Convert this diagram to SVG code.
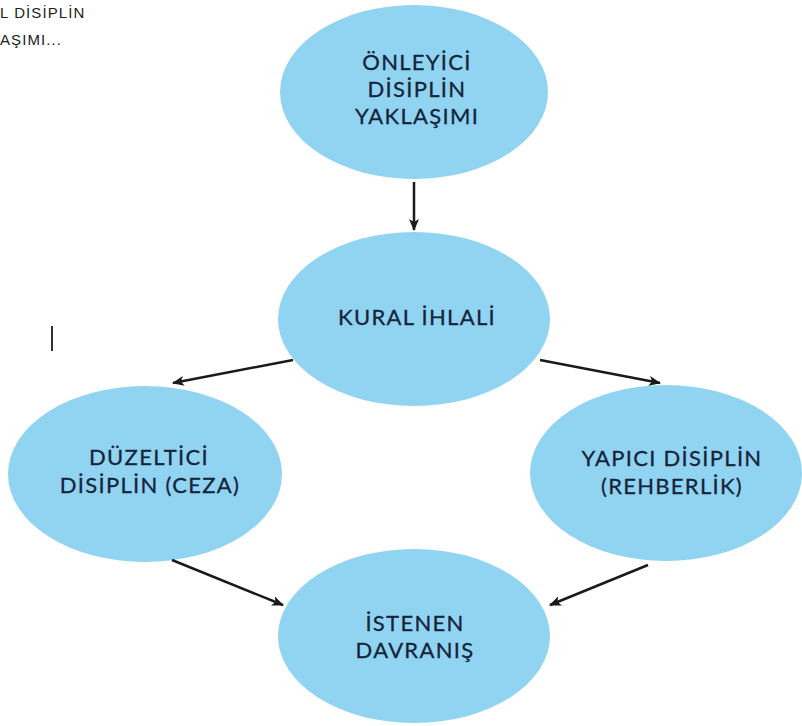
<svg xmlns="http://www.w3.org/2000/svg" width="802" height="726" viewBox="0 0 802 726">
<defs>
<marker id="ah" markerWidth="12" markerHeight="10" refX="11" refY="5" orient="auto" markerUnits="userSpaceOnUse" viewBox="0 0 12 10">
<path d="M0,0 L12,5 L0,10 L3,5 Z" fill="#1a1a1a"/>
</marker>
<style>
.n{fill:#90d4f2;}
.t{font-family:Lato,"Open Sans","DejaVu Sans",sans-serif;font-size:22px;fill:#15243a;text-anchor:middle;letter-spacing:1.3px;stroke:#15243a;stroke-width:0.3px;}
.c{stroke:#1a1a1a;stroke-width:2.5;fill:none;marker-end:url(#ah);}
.s{font-family:"Liberation Sans",Arial,sans-serif;font-size:15px;fill:#222;letter-spacing:1.1px;}
</style>
</defs>
<rect width="802" height="726" fill="#ffffff"/>
<text class="s" x="0" y="18">L DİSİPLİN</text>
<text class="s" x="0" y="45">AŞIMI...</text>
<line x1="52" y1="326" x2="52" y2="351" stroke="#333" stroke-width="2"/>
<g id="onleyici">
<ellipse class="n" cx="414" cy="92" rx="134" ry="87"/>
<text class="t" x="417" y="70">ÖNLEYİCİ</text>
<text class="t" x="417" y="97">DİSİPLİN</text>
<text class="t" x="417" y="124">YAKLAŞIMI</text>
</g>
<g id="kural">
<ellipse class="n" cx="414" cy="319" rx="136" ry="87"/>
<text class="t" x="417" y="325">KURAL İHLALİ</text>
</g>
<g id="duzeltici">
<ellipse class="n" cx="145" cy="474" rx="137" ry="88"/>
<text class="t" x="149" y="465">DÜZELTİCİ</text>
<text class="t" x="150" y="493">DİSİPLİN (CEZA)</text>
</g>
<g id="yapici">
<ellipse class="n" cx="666" cy="473" rx="136" ry="88"/>
<text class="t" x="672" y="466">YAPICI DİSİPLİN</text>
<text class="t" x="672" y="494">(REHBERLİK)</text>
</g>
<g id="istenen">
<ellipse class="n" cx="414" cy="636" rx="136" ry="87"/>
<text class="t" x="415" y="631">İSTENEN</text>
<text class="t" x="415" y="658">DAVRANIŞ</text>
</g>
<g id="connectors">
<line class="c" x1="414" y1="182" x2="414" y2="230"/>
<line class="c" x1="293" y1="360" x2="173" y2="383"/>
<line class="c" x1="540" y1="360" x2="660" y2="383"/>
<line class="c" x1="172" y1="560" x2="283" y2="605"/>
<line class="c" x1="648" y1="565" x2="550" y2="605"/>
</g>
</svg>
